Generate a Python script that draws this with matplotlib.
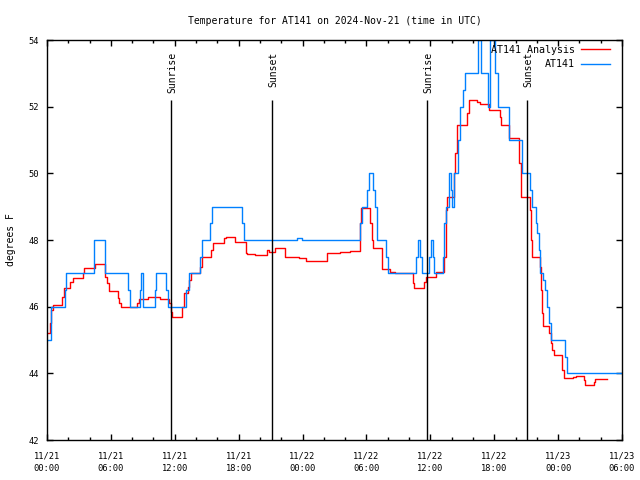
from matplotlib import pyplot as plt
from matplotlib.ticker import MultipleLocator

# hours after 2024-11-21 00:00 UTC
analysis_hours = [0.09, 0.28, 0.42, 0.56, 1.41, 1.55, 2.16, 2.44, 3.38, 3.52,
                  4.51, 5.40, 5.49, 5.59, 5.82, 6.67, 6.76, 6.95, 8.45, 8.64,
                  9.49, 9.95, 10.61, 11.46, 11.60, 11.74, 12.68, 12.87, 13.24, 13.38,
                  13.52, 14.37, 14.60, 15.40, 15.59, 16.58, 16.81, 17.66, 18.69, 18.78,
                  19.53, 20.66, 20.85, 21.41, 22.35, 23.62, 24.32, 26.30, 27.52, 28.46,
                  29.35, 29.49, 30.38, 30.48, 30.62, 31.46, 32.21, 32.68, 34.37, 34.51,
                  35.41, 35.64, 36.53, 37.28, 37.43, 37.61, 38.18, 38.32, 38.46, 39.44,
                  39.63, 40.38, 40.67, 41.51, 42.54, 42.64, 43.39, 44.33, 44.37, 44.47,
                  44.56, 45.36, 45.45, 45.55, 46.30, 46.39, 46.49, 46.58, 47.19, 47.33,
                  47.47, 47.61, 48.41, 48.51, 49.40, 49.68, 50.39, 50.53, 51.37, 51.51,
                  52.59]
analysis_temp = [45.2, 45.5, 45.9, 46.05, 46.3, 46.55, 46.75, 46.87, 47.0, 47.17,
                 47.27, 47.1, 46.9, 46.7, 46.47, 46.25, 46.12, 46.0, 46.1, 46.23,
                 46.28, 46.3, 46.23, 46.1, 45.85, 45.68, 46.0, 46.4, 46.6, 46.8,
                 47.0, 47.2, 47.5, 47.7, 47.9, 48.05, 48.1, 47.95, 47.6, 47.57,
                 47.54, 47.7, 47.65, 47.75, 47.5, 47.45, 47.37, 47.6, 47.63, 47.68,
                 48.5, 48.95, 48.5, 48.0, 47.75, 47.12, 47.05, 47.0, 46.7, 46.55,
                 46.75, 46.88, 47.05, 47.5, 48.9, 49.3, 50.0, 50.6, 51.45, 51.8,
                 52.2, 52.15, 52.08, 51.9, 51.7, 51.45, 51.05, 50.65, 50.3, 50.0,
                 49.3, 48.9, 48.0, 47.5, 47.2, 46.5, 45.8, 45.42, 45.2, 44.9,
                 44.7, 44.55, 44.1, 43.85, 43.9, 43.93, 43.8, 43.65, 43.75, 43.82,
                 43.82]

obs_hours = [0.00, 0.33, 0.42, 1.69, 1.78, 4.37, 4.46, 5.40, 5.49, 7.61,
             7.79, 8.73, 8.83, 8.97, 9.06, 10.14, 10.28, 11.13, 11.41, 13.05,
             13.29, 14.37, 14.51, 15.31, 15.50, 18.27, 18.50, 23.48, 23.95, 29.40,
             29.58, 30.05, 30.24, 30.62, 30.80, 30.99, 31.88, 32.07, 34.65, 34.84,
             35.03, 35.22, 35.88, 36.06, 36.25, 36.35, 37.19, 37.28, 37.47, 37.71,
             37.80, 37.94, 38.08, 38.18, 38.60, 38.79, 39.07, 39.26, 40.48, 40.76,
             41.42, 41.60, 42.07, 42.36, 43.39, 44.61, 45.36, 45.55, 45.92, 46.06,
             46.21, 46.30, 46.58, 46.77, 46.91, 47.14, 47.29, 48.60, 48.79, 54.0]
obs_temp = [45.0, 45.5, 46.0, 46.5, 47.0, 47.5, 48.0, 47.5, 47.0, 46.5,
            46.0, 46.5, 47.0, 46.5, 46.0, 46.5, 47.0, 46.5, 46.0, 46.5,
            47.0, 47.5, 48.0, 48.5, 49.0, 48.5, 48.0, 48.05, 48.0, 48.5,
            49.0, 49.5, 50.0, 49.5, 49.0, 48.0, 47.5, 47.0, 47.5, 48.0,
            47.5, 47.0, 47.5, 48.0, 47.5, 47.0, 47.5, 48.5, 49.0, 49.5,
            50.0, 49.5, 49.0, 50.0, 51.0, 52.0, 52.5, 53.0, 54.0, 53.0,
            52.0, 54.0, 53.0, 52.0, 51.0, 50.0, 49.5, 49.0, 48.5, 48.2,
            47.7, 47.0, 46.8, 46.5, 46.0, 45.5, 45.0, 44.5, 44.0, 44.0]

sun_hours = [11.65, 21.13, 35.73, 45.08]
sun_labels = ['Sunrise', 'Sunset', 'Sunrise', 'Sunset']

tick_hours = [0, 6, 12, 18, 24, 30, 36, 42, 48, 54]
tick_labels = ['11/21\n00:00', '11/21\n06:00', '11/21\n12:00', '11/21\n18:00',
               '11/22\n00:00', '11/22\n06:00', '11/22\n12:00', '11/22\n18:00',
               '11/23\n00:00', '11/23\n06:00']

plt.rcParams['font.family'] = 'DejaVu Sans Mono'
plt.rcParams['font.size'] = 7

fig = plt.figure(figsize=(6.4, 4.8), dpi=100)
ax = fig.add_axes([47 / 640, 40 / 480, 575 / 640, 400 / 480])

ax.plot(analysis_hours, analysis_temp, color='#ff0000', lw=1.0,
        drawstyle='steps-post', label='AT141 Analysis')
ax.plot(obs_hours, obs_temp, color='#0080ff', lw=1.0,
        drawstyle='steps-post', label='AT141')

ax.vlines(sun_hours, 42, 52.2, color='black', lw=1.0)
for h, lab in zip(sun_hours, sun_labels):
    ax.text(h + 0.1, 53.65, lab, rotation=90, ha='center', va='top')

ax.set_xlim(0, 54)
ax.set_ylim(42, 54)
ax.set_xticks(tick_hours)
ax.set_xticklabels(tick_labels, linespacing=1.5)
ax.xaxis.set_minor_locator(MultipleLocator(2))
ax.set_yticks(range(42, 55, 2))
ax.tick_params(which='both', direction='in', top=True, right=True, width=1,
               labelsize=6.3)
ax.tick_params(which='major', length=4)
ax.tick_params(which='minor', length=2.5)
ax.tick_params(axis='x', pad=8)
ax.tick_params(axis='y', pad=6)
for s in ax.spines.values():
    s.set_linewidth(1)

ax.set_ylabel('degrees F', labelpad=9)
ax.set_title('Temperature for AT141 on 2024-Nov-21 (time in UTC)',
             fontsize=7, pad=11.5)

ax.legend(loc='upper right', frameon=False, markerfirst=False, fontsize=7.2,
          bbox_to_anchor=(0.979, 0.988), borderpad=0, borderaxespad=0,
          handlelength=2.9, handletextpad=0.6, labelspacing=0.45)

plt.savefig('out.png')
